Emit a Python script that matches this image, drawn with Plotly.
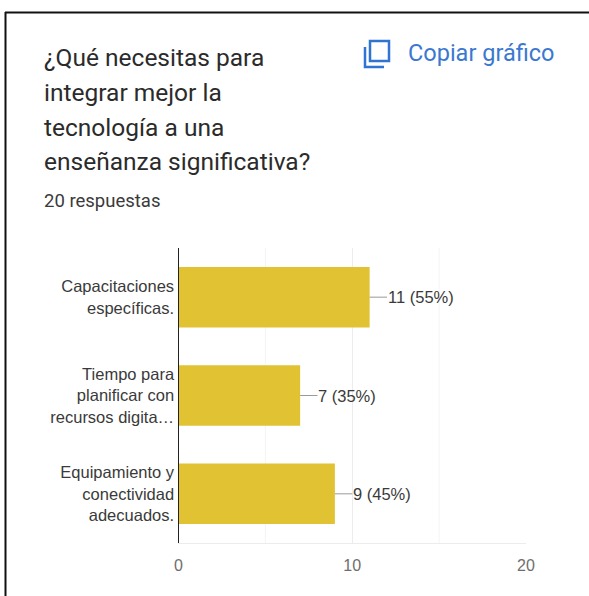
import plotly.graph_objects as go

categories = ["Capacitaciones<br>específicas.", "Tiempo para<br>planificar con<br>recursos digita…", "Equipamiento y<br>conectividad<br>adecuados."]
counts = [11, 7, 9]
value_labels = ["11 (55%)", "7 (35%)", "9 (45%)"]
x_ticks = [0, 10, 20]
title_lines = ["¿Qué necesitas para", "integrar mejor la", "tecnología a una", "enseñanza significativa?"]
subtitle = "20 respuestas"
copy_label = "Copiar gráfico"

W, H = 589, 596
LABEL = "Liberation Sans"
def px(v): return v / W
def py(v): return 1 - v / H

fig = go.Figure(go.Bar(x=counts, y=categories, orientation="h", marker=dict(color="#e1c233", line_width=0),
                       width=0.615, hoverinfo="skip"))

shapes = []
annotations = []
for c, lab, cat in zip(counts, value_labels, categories):
    shapes.append(dict(type="line", xref="x", yref="y", x0=c, x1=c + 1.0, y0=cat, y1=cat, line=dict(color="#9a9a9a", width=1)))
    annotations.append(dict(x=c, y=cat, xref="x", yref="y", text=lab, showarrow=False, xanchor="left", xshift=16,
                            font=dict(family=LABEL, size=16.5, color="#3a3a3a")))

# minor gridlines and the frame of the card
for v in [5, 15]:
    shapes.append(dict(type="line", xref="x", yref="paper", x0=v, x1=v, y0=py(543), y1=py(248), line=dict(color="#f4f4f4", width=1), layer="below"))
shapes.append(dict(type="line", xref="paper", yref="paper", x0=px(5), x1=1, y0=py(12.5), y1=py(12.5), line=dict(color="#111", width=2)))
shapes.append(dict(type="line", xref="paper", yref="paper", x0=px(5.5), x1=px(5.5), y0=py(12), y1=0, line=dict(color="#111", width=2)))
# copy icon
shapes.append(dict(type="rect", xref="paper", yref="paper", x0=px(370), x1=px(389), y0=py(61), y1=py(41), line=dict(color="#2f74d0", width=2.5)))
shapes.append(dict(type="path", xref="paper", yref="paper", path=f"M {px(365)} {py(47)} L {px(365)} {py(67)} L {px(384)} {py(67)}", line=dict(color="#2f74d0", width=2.5)))

for line, y in zip(title_lines, [57, 92, 127, 161]):
    annotations.append(dict(x=px(44), y=py(y), xref="paper", yref="paper", text=line, showarrow=False, xanchor="left", yanchor="middle",
                            xshift=-2, font=dict(family="Roboto", size=24.5, color="#2b2b2b")))
annotations.append(dict(x=px(44), y=py(201), xref="paper", yref="paper", text=subtitle, showarrow=False, xanchor="left", yanchor="middle",
                        xshift=-2, font=dict(family="Roboto", size=18.5, color="#3a3a3a")))
annotations.append(dict(x=px(408), y=py(53), xref="paper", yref="paper", text=copy_label, showarrow=False, xanchor="left", yanchor="middle",
                        xshift=-2, font=dict(family="Roboto", size=23.5, color="#3b78d0")))

fig.update_layout(
    width=W, height=H, margin=dict(l=0, r=0, t=0, b=0, pad=0, autoexpand=False), paper_bgcolor="white", plot_bgcolor="white",
    showlegend=False, shapes=shapes, annotations=annotations,
    xaxis=dict(domain=[px(178.5), px(526)], range=[0, 20], tickvals=x_ticks, showgrid=True, gridcolor="#ececec", zeroline=False,
               anchor="y", ticks="", showline=True, linecolor="#ececec", linewidth=1, ticklabelstandoff=8, automargin=False,
               tickfont=dict(family=LABEL, size=16, color="#6e6e6e")),
    yaxis=dict(domain=[py(543), py(248)], autorange="reversed", showline=True, linecolor="#222", linewidth=1.2, ticks="", automargin=False,
               tickfont=dict(family=LABEL, size=16.5, color="#3a3a3a"), anchor="x", showgrid=False),
)
fig.write_html("out.html", config={"displayModeBar": False}, post_script="document.body.style.margin='0';document.documentElement.style.overflow='hidden';")
